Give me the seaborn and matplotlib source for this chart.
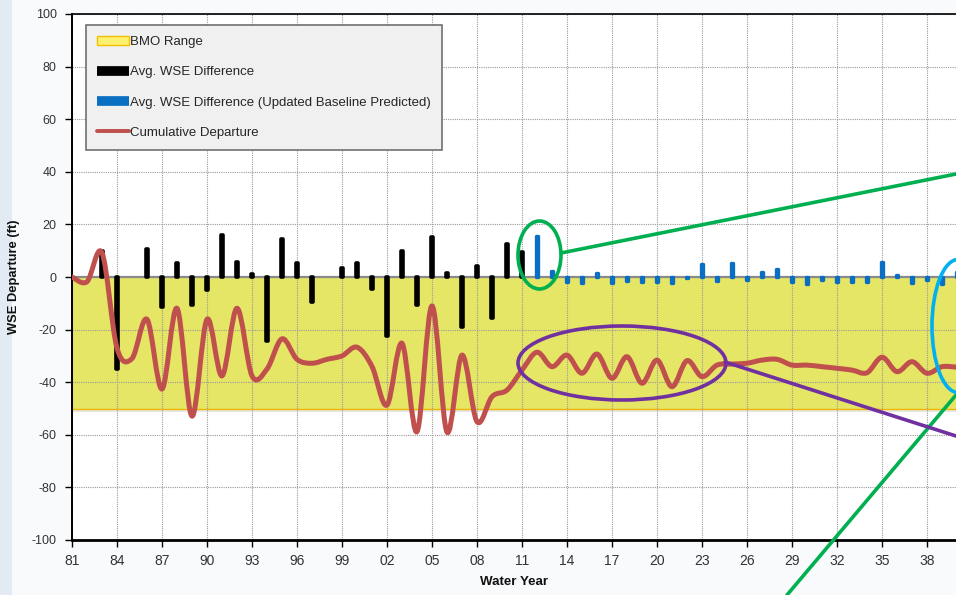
import numpy as np
import pandas as pd
import seaborn as sns
import matplotlib.pyplot as plt
from matplotlib.path import Path
from matplotlib.patches import PathPatch, Patch, Ellipse, Rectangle
from matplotlib.lines import Line2D

# data
years_hist = list(range(1981, 2012))
wse_hist = [np.nan, np.nan, 10.0, -35.0, np.nan, 10.5, -11.5, 5.2, -10.6, -5.0,
            16.0, 5.7, 1.3, -24.2, 14.3, 5.4, -9.5, np.nan, 3.3, 5.2,
            -4.7, -22.4, 9.8, -10.5, 15.2, 1.4, -18.9, 4.2, -15.6, 12.5, 9.6]

years_pred = list(range(2012, 2041))
wse_pred = [15.6, 2.4, -2.0, -2.4, 1.4, -2.4, -1.5, -2.0, -2.0, -2.3,
            -0.5, 4.9, -1.7, 5.3, -1.0, 2.0, 3.0, -2.0, -2.7, -1.0,
            -2.0, -1.8, -2.0, 5.8, 0.8, -2.4, -1.0, -2.7, 2.0]

years_cum = list(range(1981, 2041))
cum_departure = [0.0, -1.8, 9.2, -27.0, -31.0, -16.1, -42.6, -11.9, -52.9, -16.1,
                 -37.6, -11.9, -37.6, -35.0, -23.5, -31.3, -32.8, -31.3, -30.0, -26.7,
                 -34.0, -48.7, -25.2, -58.8, -11.0, -59.0, -29.7, -55.0, -45.5, -43.0,
                 -35.4, -28.6, -34.1, -29.7, -36.6, -29.3, -38.5, -30.3, -40.4, -31.6,
                 -41.7, -31.8, -37.9, -33.5, -33.1, -32.8, -31.6, -31.3, -33.5, -33.5,
                 -34.1, -34.7, -35.4, -36.4, -30.5, -36.0, -32.2, -36.6, -34.1, -34.3]

bmo_range = [-50, 0]

tick_years = list(range(1981, 2039, 3))
tick_labels = ['81', '84', '87', '90', '93', '96', '99', '02', '05', '08',
               '11', '14', '17', '20', '23', '26', '29', '32', '35', '38']

legend_labels = ['BMO Range', 'Avg. WSE Difference',
                 'Avg. WSE Difference (Updated Baseline Predicted)', 'Cumulative Departure']

W, H = 956, 595

sns.set_theme(style='white')
plt.rcParams['font.family'] = ['Liberation Sans', 'DejaVu Sans']
plt.rcParams['axes.unicode_minus'] = False

fig = plt.figure(figsize=(W / 100, H / 100), dpi=100, facecolor='#F9FAFC')
fig.add_artist(Rectangle((0, 0), 12 / W, 1, transform=fig.transFigure,
                         facecolor='#E2EAF4', edgecolor='none', zorder=0))
ax = fig.add_axes([72 / W, 55 / H, 884 / W, 526 / H])
ax.set_facecolor('white')

# BMO band
ax.axhspan(bmo_range[0], bmo_range[1], facecolor='#E5E566', edgecolor='none', zorder=0.3)
ax.axhspan(bmo_range[0] - 1.2, bmo_range[0], facecolor='#BBBBBB', alpha=0.35,
           edgecolor='none', zorder=0.3)
ax.axhline(bmo_range[0], color='#F2B400', lw=1.0, zorder=0.4)
ax.axhline(0, color='#8A8A8A', lw=1.6, zorder=1.5)

# bars
hist = pd.DataFrame({'year': years_hist, 'wse': wse_hist}).dropna()
pred = pd.DataFrame({'year': years_pred, 'wse': wse_pred})
sns.barplot(data=hist, x='year', y='wse', native_scale=True, width=0.12,
            color='black', saturation=1, errorbar=None, edgecolor='black',
            linewidth=2.6, joinstyle='round', zorder=2, ax=ax)
sns.barplot(data=pred, x='year', y='wse', native_scale=True, width=0.1,
            color='#0A6FC2', saturation=1, errorbar=None, edgecolor='#0A6FC2',
            linewidth=2.4, joinstyle='round', zorder=2, ax=ax)

# smoothed cumulative departure line (Excel style smooth curve)
pts = np.column_stack([years_cum, cum_departure])
n = len(pts)
verts = [pts[0]]
codes = [Path.MOVETO]
for i in range(n - 1):
    p0 = pts[max(i - 1, 0)]
    p1 = pts[i]
    p2 = pts[i + 1]
    p3 = pts[min(i + 2, n - 1)]
    verts += [p1 + (p2 - p0) / 6, p2 - (p3 - p1) / 6, p2]
    codes += [Path.CURVE4] * 3
ax.add_patch(PathPatch(Path(verts, codes), facecolor='none', edgecolor='#C0504D',
                       lw=3.6, capstyle='round', joinstyle='round', zorder=3))

ax.set_xlim(1981, 1981 + 884 / 15)
ax.set_ylim(-100, 100)
ax.set_xticks(tick_years)
ax.set_xticklabels(tick_labels, family=['Liberation Sans Narrow', 'Liberation Sans', 'DejaVu Sans'],
                   fontsize=10)
ax.set_yticks(range(-100, 101, 20))

ax.grid(True, color='#9A9A9A', linestyle=(0, (1, 1)), linewidth=0.8)
ax.set_axisbelow(True)

ax.tick_params(axis='both', direction='out', length=5, width=1, color='black',
               labelcolor='#333333', bottom=True, left=True)
ax.tick_params(axis='y', labelsize=9, pad=6)
ax.tick_params(axis='x', pad=5)

for side in ['left', 'top', 'bottom']:
    ax.spines[side].set_visible(True)
    ax.spines[side].set_color('black')
ax.spines['left'].set_linewidth(1.4)
ax.spines['top'].set_linewidth(1.2)
ax.spines['bottom'].set_linewidth(2.0)
ax.spines['right'].set_visible(False)

ax.set_ylabel('WSE Departure (ft)', fontweight='bold', fontsize=9.3, color='#111111')
ax.yaxis.set_label_coords((20 - 72) / 884, 0.5)
ax.set_xlabel('Water Year', fontweight='bold', fontsize=9.6, color='#111111', labelpad=6)

handles = [
    Patch(facecolor='#FFF070', edgecolor='#F2C200', lw=1),
    Line2D([], [], color='black', lw=7, solid_capstyle='butt'),
    Line2D([], [], color='#0A6FC2', lw=7, solid_capstyle='butt'),
    Line2D([], [], color='#C0504D', lw=2.8),
]
leg = ax.legend(handles, legend_labels, loc='upper left',
                bbox_to_anchor=((86 - 72) / 884, (540 - 25) / 526), borderaxespad=0,
                fontsize=9.5, frameon=True, fancybox=False, framealpha=1,
                facecolor='#F0F0F0', edgecolor='#707070', handlelength=2.4,
                handletextpad=0.08, labelspacing=1.35, borderpad=0.85)
leg.get_frame().set_linewidth(1.2)
leg.set_zorder(5)

# callout annotations drawn on the slide
def px_ellipse(cx, cy, w, h, color):
    fig.add_artist(Ellipse((cx / W, 1 - cy / H), w / W, h / H, transform=fig.transFigure,
                           facecolor='none', edgecolor=color, lw=2.6, zorder=10))


def px_line(x0, y0, x1, y1, color):
    fig.add_artist(Line2D([x0 / W, x1 / W], [1 - y0 / H, 1 - y1 / H],
                          transform=fig.transFigure, color=color, lw=2.6, zorder=10))


px_ellipse(539.5, 255, 43, 68, '#00B050')
px_line(561, 253, 956, 174, '#00B050')
px_line(956, 395, 787, 595, '#00B050')
px_ellipse(622, 363, 208, 74, '#7030A0')
px_line(725, 362, 956, 436, '#7030A0')
px_ellipse(958, 326, 52, 133, '#00B0F0')

fig.savefig('out.png', dpi=100, facecolor=fig.get_facecolor())
